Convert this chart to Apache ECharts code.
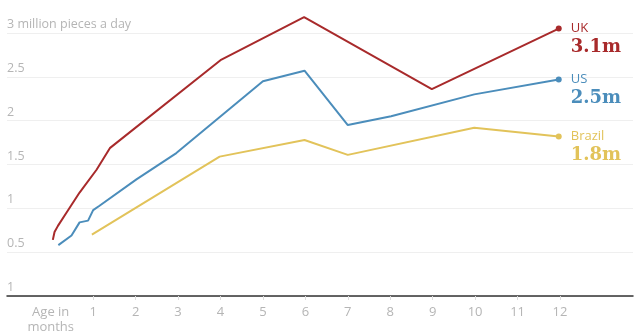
<!DOCTYPE html>
<html>
<head>
<meta charset="utf-8">
<script src="https://cdn.jsdelivr.net/npm/echarts@6/dist/echarts.min.js"></script>
<style>
html,body{margin:0;padding:0;background:#fff;}
#c{width:640px;height:335px;}
</style>
</head>
<body>
<div id="c"></div>
<script>
// Data (age in months → million pieces a day)
const ukMonths = [0.05, 0.09, 0.17, 0.37, 0.68, 1.08, 1.40, 4.0, 5.97, 8.98, 11.97];
const ukValues = [0.64, 0.73, 0.80, 0.95, 1.18, 1.44, 1.69, 2.69, 3.18, 2.36, 3.05];
const usMonths = [0.18, 0.49, 0.68, 0.88, 1.0, 1.15, 2.02, 2.96, 5.0, 5.98, 7.0, 8.02, 9.98, 11.97];
const usValues = [0.58, 0.69, 0.84, 0.86, 0.98, 1.03, 1.33, 1.63, 2.45, 2.57, 1.95, 2.05, 2.30, 2.47];
const brMonths = [0.97, 3.98, 5.98, 7.0, 9.98, 11.97];
const brValues = [0.70, 1.59, 1.78, 1.61, 1.92, 1.82];
const seriesNames = ['UK', 'US', 'Brazil'];
const endLabels = ['3.1m', '2.5m', '1.8m'];
const xTickValues = [0, 1, 2, 3, 4, 5, 6, 7, 8, 9, 10, 11, 12];
const xTickLabels = ['Age in\nmonths', '1', '2', '3', '4', '5', '6', '7', '8', '9', '10', '11', '12'];
const yTickValues = [0, 0.5, 1, 1.5, 2, 2.5, 3];
const yTickLabels = ['1', '0.5', '1', '1.5', '2', '2.5', '3 million pieces a day'];

const colors = ['#a82a2b', '#4b8dbb', '#e2c35a'];
const sans = '"Open Sans", "Noto Sans", sans-serif';
const serif = '"DejaVu Serif", serif';

function pairs(xs, ys) { return xs.map((x, i) => [x, ys[i]]); }
const allData = [pairs(ukMonths, ukValues), pairs(usMonths, usValues), pairs(brMonths, brValues)];

const chart = echarts.init(document.getElementById('c'), null, {renderer: 'canvas'});
chart.setOption({
  animation: false,
  backgroundColor: '#fff',
  grid: {left: 7, right: 7, top: 33, bottom: 38},
  xAxis: {
    type: 'value',
    min: -1.03,
    max: 13.72,
    axisLine: {show: true, onZero: false, lineStyle: {color: '#333', width: 1.5}},
    axisTick: {show: true, customValues: xTickValues.slice(1), length: 4, lineStyle: {color: '#ddd'}},
    splitLine: {show: false},
    axisLabel: {
      customValues: xTickValues,
      color: '#b5b5b5',
      fontFamily: sans,
      fontSize: 13,
      margin: 9,
      lineHeight: 15,
      formatter: v => xTickLabels[xTickValues.indexOf(v)] ?? ''
    }
  },
  yAxis: {
    type: 'value',
    min: 0,
    max: 3,
    interval: 0.5,
    axisLine: {show: false},
    axisTick: {show: false},
    splitLine: {lineStyle: {color: '#efefef', width: 1}},
    axisLabel: {
      inside: true,
      margin: 0,
      align: 'left',
      verticalAlign: 'bottom',
      padding: [0, 0, 2, 0],
      color: '#b5b5b5',
      fontFamily: sans,
      fontSize: 12.5,
      formatter: v => {
        const i = yTickValues.findIndex(t => Math.abs(t - v) < 1e-6);
        return i >= 0 ? yTickLabels[i] : '';
      }
    }
  },
  series: allData.map((d, k) => ({
    name: seriesNames[k],
    type: 'line',
    data: d,
    clip: false,
    color: colors[k],
    lineStyle: {width: 2, color: colors[k]},
    itemStyle: {color: colors[k]},
    symbol: 'circle',
    showSymbol: true,
    showAllSymbol: true,
    symbolSize: (v, p) => p.dataIndex === d.length - 1 ? 6 : 0,
    endLabel: {
      show: true,
      distance: 12,
      offset: [0, 10],
      formatter: () => '{n|' + seriesNames[k] + '}\n{v|' + endLabels[k] + '}',
      rich: {
        n: {fontFamily: sans, fontSize: 13, color: colors[k], lineHeight: 18},
        v: {fontFamily: serif, fontWeight: 'bold', fontSize: 18, color: colors[k], lineHeight: 20}
      }
    }
  }))
});
</script>
</body>
</html>
